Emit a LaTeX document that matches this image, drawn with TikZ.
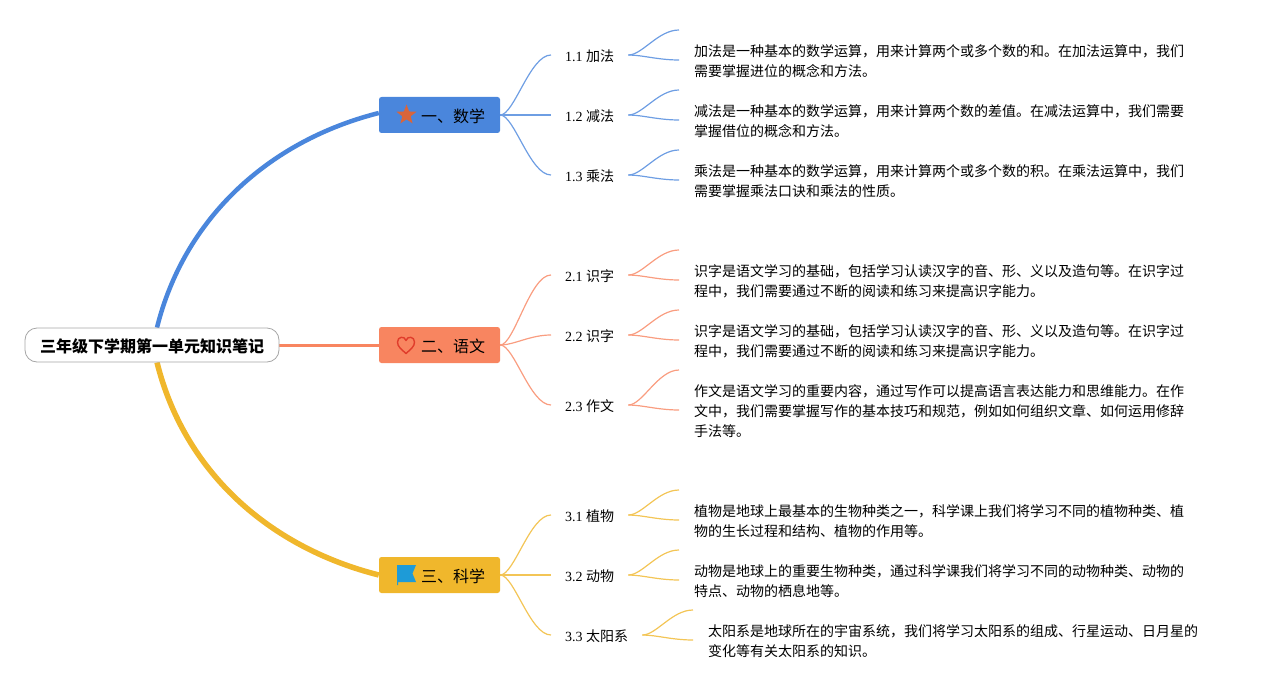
\documentclass[tikz,border=0pt]{standalone}
\usepackage{fontspec}
\setmainfont{Liberation Serif}
\newfontfamily\cjk{Noto Sans CJK SC}
\usetikzlibrary{shapes.geometric,backgrounds}
\definecolor{cblue}{HTML}{4A86DC}
\definecolor{csalmon}{HTML}{F88560}
\definecolor{cyellow}{HTML}{F0B72C}
\definecolor{cstar}{HTML}{D9653B}
\definecolor{cheart}{HTML}{E03C2B}
\definecolor{cflag}{HTML}{1E9BD7}
\tikzset{
  rootbox/.style={draw=black!35,fill=white,line width=0.8pt,rounded corners=12pt,minimum width=254pt,minimum height=34pt,inner sep=0pt,text height=15.2pt,text depth=1pt,font=\fontsize{16}{20}\selectfont\cjk\bfseries},
  mainbox/.style={fill=#1,rounded corners=2.5pt,minimum width=121pt,minimum height=36pt,inner sep=0pt,text height=15.2pt,text depth=1pt,font=\fontsize{16}{20}\selectfont\cjk},
  subbox/.style={anchor=west,inner xsep=14pt,inner ysep=2pt,text height=13.6pt,text depth=1pt,font=\fontsize{14}{20}\selectfont},
  leaftext/.style={anchor=west,inner sep=0pt,align=left,font=\fontsize{14}{20}\selectfont\cjk},
  twig/.style={draw=#1!80,line width=1.2pt},
}
\newcommand{\scurve}[3]{\draw[twig=#1] (#2) .. controls +(14,0) and +(-21,0) .. (#3);}
\begin{document}
\begin{tikzpicture}[x=1pt,y=-1pt]
\useasboundingbox (0,0) rectangle (1268,690);
% root and main
\node[rootbox] (root) at (152,345) {三年级下学期第一单元知识笔记};
\node[mainbox=cblue] (m1) at (439.5,115) {\hspace*{42pt}一、数学\hspace*{15pt}};
\node[mainbox=csalmon] (m2) at (439.5,345) {\hspace*{42pt}二、语文\hspace*{15pt}};
\node[mainbox=cyellow] (m3) at (439.5,575) {\hspace*{42pt}三、科学\hspace*{15pt}};
% icons
\node[star,star points=5,star point ratio=2.4,fill=cstar,minimum size=21pt,inner sep=0pt] (icon1) at (406.5,115) {};
\draw[cheart,line width=1.4pt,line join=round] (406,353.5) .. controls (401,349) and (397.5,346.5) .. (397.5,342) .. controls (397.5,336.5) and (404.5,335.5) .. (406,340.5) .. controls (407.5,335.5) and (414.5,336.5) .. (414.5,342) .. controls (414.5,346.5) and (411,349) .. (406,353.5) -- cycle;
\fill[cflag] (397,565) -- (416,565) -- (412.5,573.5) -- (416,582) -- (398,582) -- (398,585) -- (397,585) -- cycle;
% subs
\node[subbox] (s11) at (551,55) {1.1 {\cjk 加法}};
\node[subbox] (s12) at (551,115) {1.2 {\cjk 减法}};
\node[subbox] (s13) at (551,175) {1.3 {\cjk 乘法}};
\node[subbox] (s21) at (551,275) {2.1 {\cjk 识字}};
\node[subbox] (s22) at (551,335) {2.2 {\cjk 识字}};
\node[subbox] (s23) at (551,405) {2.3 {\cjk 作文}};
\node[subbox] (s31) at (551,515) {3.1 {\cjk 植物}};
\node[subbox] (s32) at (551,575) {3.2 {\cjk 动物}};
\node[subbox] (s33) at (551,635) {3.3 {\cjk 太阳系}};
% texts
\node[leaftext] (t11) at (694,61) {加法是一种基本的数学运算，用来计算两个或多个数的和。在加法运算中，我们\\需要掌握进位的概念和方法。};
\node[leaftext] (t12) at (694,121) {减法是一种基本的数学运算，用来计算两个数的差值。在减法运算中，我们需要\\掌握借位的概念和方法。};
\node[leaftext] (t13) at (694,181) {乘法是一种基本的数学运算，用来计算两个或多个数的积。在乘法运算中，我们\\需要掌握乘法口诀和乘法的性质。};
\node[leaftext] (t21) at (694,281) {识字是语文学习的基础，包括学习认读汉字的音、形、义以及造句等。在识字过\\程中，我们需要通过不断的阅读和练习来提高识字能力。};
\node[leaftext] (t22) at (694,341) {识字是语文学习的基础，包括学习认读汉字的音、形、义以及造句等。在识字过\\程中，我们需要通过不断的阅读和练习来提高识字能力。};
\node[leaftext] (t23) at (694,411) {作文是语文学习的重要内容，通过写作可以提高语言表达能力和思维能力。在作\\文中，我们需要掌握写作的基本技巧和规范，例如如何组织文章、如何运用修辞\\手法等。};
\node[leaftext] (t31) at (694,521) {植物是地球上最基本的生物种类之一，科学课上我们将学习不同的植物种类、植\\物的生长过程和结构、植物的作用等。};
\node[leaftext] (t32) at (694,581) {动物是地球上的重要生物种类，通过科学课我们将学习不同的动物种类、动物的\\特点、动物的栖息地等。};
\node[leaftext] (t33) at (708,641) {太阳系是地球所在的宇宙系统，我们将学习太阳系的组成、行星运动、日月星的\\变化等有关太阳系的知识。};
% free ends
\coordinate (a11) at (679,30); \coordinate (b11) at (679,60);
\coordinate (a12) at (679,90); \coordinate (b12) at (679,120);
\coordinate (a13) at (679,150); \coordinate (b13) at (679,180);
\coordinate (a21) at (679,250); \coordinate (b21) at (679,280);
\coordinate (a22) at (679,310); \coordinate (b22) at (679,340);
\coordinate (a23) at (679,370); \coordinate (b23) at (679,410);
\coordinate (a31) at (679,490); \coordinate (b31) at (679,520);
\coordinate (a32) at (679,550); \coordinate (b32) at (679,580);
\coordinate (a33) at (693,610); \coordinate (b33) at (693,640);
\begin{scope}[on background layer]
\draw[draw=cblue,line width=4.5pt] ([xshift=5pt]root.north) .. controls (184,219) and (268,141) .. ([yshift=2pt]m1.west);
\draw[draw=csalmon,line width=3pt] (root.east) -- (m2.west);
\draw[draw=cyellow,line width=5.5pt] ([xshift=5pt]root.south) .. controls (184,471) and (268,547) .. (m3.west);
\foreach \i in {1,2,3}{
  \scurve{cblue}{m1.east}{s1\i.west}
  \scurve{cblue}{s1\i.east}{a1\i}
  \scurve{cblue}{s1\i.east}{b1\i}
  \scurve{csalmon}{m2.east}{s2\i.west}
  \scurve{csalmon}{s2\i.east}{a2\i}
  \scurve{csalmon}{s2\i.east}{b2\i}
  \scurve{cyellow}{m3.east}{s3\i.west}
  \scurve{cyellow}{s3\i.east}{a3\i}
  \scurve{cyellow}{s3\i.east}{b3\i}
}
\end{scope}
\end{tikzpicture}
\end{document}
